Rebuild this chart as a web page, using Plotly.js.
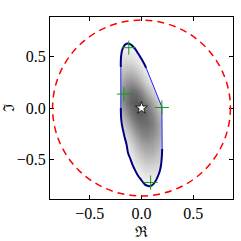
<!DOCTYPE html>
<html><head><meta charset="utf-8">
<script src="https://cdn.plot.ly/plotly-3.0.1.min.js"></script>
<style>html,body{margin:0;padding:0;background:#fff}#chart{width:241px;height:241px}</style>
</head><body><div id="chart"></div>
<script>
// ---- data ----
const tickVals = [-0.5, 0.0, 0.5];
const tickText = ['\u22120.5', '0.0', '0.5'];
const circleRadius = 0.86;

// thick (navy) boundary arcs
const arcTopX = [-0.200, -0.200, -0.197, -0.190, -0.180, -0.171, -0.155, -0.133, -0.110, -0.084, -0.060, -0.036, -0.012, 0.013, 0.030, 0.045];
const arcTopY = [0.400, 0.460, 0.510, 0.555, 0.585, 0.604, 0.622, 0.630, 0.625, 0.604, 0.575, 0.538, 0.500, 0.458, 0.425, 0.392];
const arcBotX = [0.200, 0.197, 0.190, 0.177, 0.160, 0.145, 0.113, 0.080, 0.050, 0.032, -0.007, -0.035, -0.058, -0.085, -0.113, -0.130, -0.145, -0.162, -0.177, -0.190, -0.197, -0.200];
const arcBotY = [-0.400, -0.470, -0.550, -0.617, -0.665, -0.698, -0.747, -0.765, -0.758, -0.747, -0.698, -0.660, -0.617, -0.560, -0.484, -0.440, -0.354, -0.290, -0.224, -0.160, -0.100, 0.000];
// thin (blue) straight boundary pieces: right-diagonal + right vertical, left vertical
const diagX = [0.045, 0.197, 0.200];
const diagY = [0.392, 0.010, -0.400];
const leftEdgeX = [-0.200, -0.200];
const leftEdgeY = [0.000, 0.400];

// green crosses and the star
const crossX = [-0.123, -0.170, 0.197, 0.088];
const crossY = [0.590, 0.136, 0.005, -0.728];
const starX = [0.0];
const starY = [0.0];

// grey shading (darkness 0..1) sampled on a grid
const shadeX = [-0.20, -0.15, -0.10, -0.05, 0.00, 0.05, 0.10, 0.15, 0.20];
const shadeY = [0.65, 0.55, 0.45, 0.35, 0.25, 0.15, 0.05, -0.05, -0.15, -0.25, -0.35, -0.45, -0.55, -0.65, -0.75];
const shadeZ = [
  [0.04, 0.04, 0.03, 0.02, 0.01, 0.00, 0.00, 0.00, 0.00],
  [0.08, 0.08, 0.07, 0.05, 0.03, 0.01, 0.00, 0.00, 0.00],
  [0.15, 0.17, 0.16, 0.12, 0.07, 0.04, 0.02, 0.02, 0.02],
  [0.24, 0.28, 0.29, 0.24, 0.16, 0.09, 0.05, 0.03, 0.02],
  [0.33, 0.41, 0.44, 0.39, 0.29, 0.18, 0.09, 0.05, 0.03],
  [0.41, 0.52, 0.59, 0.57, 0.48, 0.34, 0.20, 0.11, 0.06],
  [0.40, 0.53, 0.62, 0.65, 0.61, 0.50, 0.36, 0.22, 0.13],
  [0.30, 0.42, 0.54, 0.62, 0.63, 0.58, 0.47, 0.33, 0.22],
  [0.18, 0.29, 0.42, 0.52, 0.57, 0.57, 0.51, 0.40, 0.28],
  [0.09, 0.18, 0.29, 0.40, 0.48, 0.50, 0.46, 0.38, 0.28],
  [0.04, 0.09, 0.18, 0.28, 0.36, 0.40, 0.38, 0.32, 0.24],
  [0.02, 0.05, 0.10, 0.18, 0.25, 0.29, 0.29, 0.24, 0.19],
  [0.01, 0.02, 0.05, 0.10, 0.15, 0.19, 0.19, 0.17, 0.13],
  [0.00, 0.01, 0.02, 0.05, 0.08, 0.11, 0.11, 0.09, 0.07],
  [0.00, 0.00, 0.01, 0.02, 0.03, 0.04, 0.04, 0.03, 0.02]
];

// ---- build a white mask: box outside the closed boundary ----
const boundX = arcTopX.concat(diagX.slice(1), arcBotX.slice(1), leftEdgeX.slice(1));
const boundY = arcTopY.concat(diagY.slice(1), arcBotY.slice(1), leftEdgeY.slice(1));
const bx0 = Math.min(...shadeX) - 0.08, bx1 = Math.max(...shadeX) + 0.08;
const by0 = Math.min(...shadeY) - 0.1, by1 = Math.max(...shadeY) + 0.1;
const maskX = [bx0, bx1, bx1, bx0, bx0].concat(boundX, [bx0]);
const maskY = [by0, by0, by1, by1, by0].concat(boundY, [by0]);

const serif = 'Liberation Serif, DejaVu Serif, serif';
const traces = [
  {type: 'heatmap', x: shadeX, y: shadeY, z: shadeZ, zmin: 0, zmax: 1, zsmooth: 'best',
   colorscale: [[0, '#ffffff'], [1, '#000000']], showscale: false, hoverinfo: 'skip'},
  {type: 'scatter', mode: 'lines', x: maskX, y: maskY, fill: 'toself', fillcolor: '#ffffff',
   line: {width: 0, color: 'rgba(0,0,0,0)'}, hoverinfo: 'skip'},
  {type: 'scatter', mode: 'lines', x: leftEdgeX, y: leftEdgeY, line: {color: '#2020ff', width: 1}},
  {type: 'scatter', mode: 'lines', x: diagX, y: diagY, line: {color: '#2020ff', width: 1}},
  {type: 'scatter', mode: 'lines', x: arcTopX, y: arcTopY, line: {color: '#000080', width: 2, shape: 'spline'}},
  {type: 'scatter', mode: 'lines', x: arcBotX, y: arcBotY, line: {color: '#000080', width: 2, shape: 'spline'}},
  {type: 'scatter', mode: 'markers', x: crossX, y: crossY,
   marker: {symbol: 'cross-thin', size: 10, color: '#139a13', line: {color: '#139a13', width: 1}}},
  {type: 'scatter', mode: 'markers', x: starX, y: starY,
   marker: {symbol: 'star', size: 9, color: '#ffffff', line: {color: '#000000', width: 0.8}}}
];

const axisCommon = {
  tickvals: tickVals, ticktext: tickText, ticks: 'inside', ticklen: 4, tickwidth: 1, tickcolor: '#000',
  showline: true, mirror: 'ticks', linecolor: '#000', linewidth: 1,
  showgrid: false, zeroline: false,
  tickfont: {family: serif, size: 16, color: '#000'}
};

const layout = {
  width: 241, height: 241,
  margin: {l: 50, r: 8, t: 17, b: 42},
  paper_bgcolor: '#fff', plot_bgcolor: '#fff',
  showlegend: false,
  xaxis: Object.assign({}, axisCommon, {range: [-0.885, 0.885],
    title: {text: '\u211C', font: {family: 'DejaVu Serif, serif', size: 15, color: '#000'}, standoff: 8}}),
  yaxis: Object.assign({}, axisCommon, {range: [-0.89, 0.89],
    title: {text: '\u2111', font: {family: 'DejaVu Serif, serif', size: 15, color: '#000'}, standoff: 3}}),
  shapes: [{type: 'circle', xref: 'x', yref: 'y',
    x0: -circleRadius, x1: circleRadius, y0: -circleRadius, y1: circleRadius,
    line: {color: '#ff0000', width: 1.5, dash: '7px,5px'}}]
};

Plotly.newPlot('chart', traces, layout, {staticPlot: true, displayModeBar: false});
</script>
</body></html>
